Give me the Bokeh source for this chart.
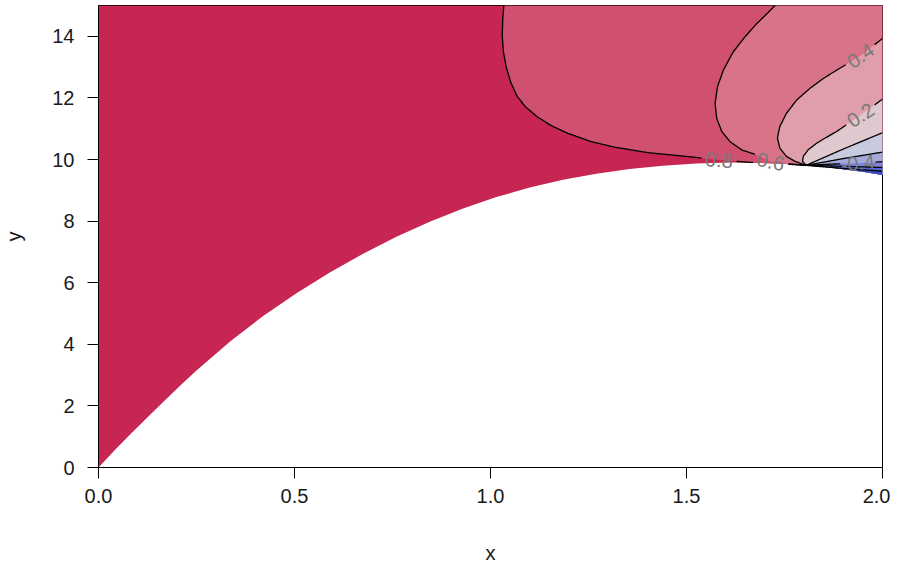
import numpy as np
from bokeh.plotting import figure
from bokeh.models import Range1d, FixedTicker
from bokeh.core.properties import value
from bokeh.embed import file_html
from bokeh.resources import INLINE

# ---------------- data ----------------
X_RANGE = (0.0, 2.0)
Y_RANGE = (0.0, 15.0)
x_ticks = [0.0, 0.5, 1.0, 1.5, 2.0]
x_tick_labels = ["0.0", "0.5", "1.0", "1.5", "2.0"]
y_ticks = [0, 2, 4, 6, 8, 10, 12, 14]
y_tick_labels = ["0", "2", "4", "6", "8", "10", "12", "14"]

# lower edge of the defined region (white below)
bound_x = [0.0, 0.04, 0.08, 0.12, 0.165, 0.21, 0.25, 0.335, 0.42, 0.505, 0.59, 0.675, 0.76, 0.845,
           0.93, 1.015, 1.10, 1.185, 1.27, 1.355, 1.44, 1.525, 1.61, 1.695, 1.78, 1.805,
           1.865, 1.95, 2.0]
bound_y = [0.0, 0.54, 1.06, 1.57, 2.13, 2.68, 3.15, 4.08, 4.92, 5.66, 6.33, 6.94, 7.49, 7.98,
           8.41, 8.78, 9.09, 9.34, 9.54, 9.69, 9.80, 9.87, 9.90, 9.89, 9.84, 9.81,
           9.74, 9.60, 9.50]

# contour lines (level -> points), each ends at the common meeting point
c08_x = [1.034, 1.031, 1.030, 1.033, 1.040, 1.052, 1.068, 1.090, 1.120, 1.155, 1.197, 1.257, 1.317, 1.403, 1.523, 1.583, 1.66, 1.74, 1.805]
c08_y = [15.0, 14.5, 14.0, 13.5, 13.0, 12.5, 12.05, 11.70, 11.38, 11.10, 10.85, 10.58, 10.40, 10.22, 10.07, 9.98, 9.91, 9.86, 9.81]
c06_x = [1.726, 1.705, 1.679, 1.649, 1.619, 1.594, 1.579, 1.573, 1.577, 1.590, 1.611, 1.641, 1.679, 1.715, 1.76, 1.805]
c06_y = [15.0, 14.73, 14.41, 13.98, 13.49, 12.90, 12.36, 11.82, 11.34, 10.91, 10.58, 10.31, 10.15, 9.93, 9.86, 9.81]
c04_x = [2.0, 1.944, 1.883, 1.849, 1.815, 1.781, 1.755, 1.738, 1.732, 1.738, 1.755, 1.777, 1.805]
c04_y = [13.93, 13.37, 12.90, 12.63, 12.31, 11.93, 11.50, 11.07, 10.70, 10.37, 10.10, 9.94, 9.81]
c02_x = [2.0, 1.944, 1.883, 1.857, 1.832, 1.810, 1.798, 1.796, 1.805]
c02_y = [11.96, 11.44, 10.91, 10.72, 10.53, 10.31, 10.10, 9.94, 9.81]
c00_x = [2.0, 1.9, 1.805]
c00_y = [10.87, 10.34, 9.81]
cm02_x = [2.0, 1.9, 1.805]
cm02_y = [10.24, 10.03, 9.81]
cm04_x = [2.0, 1.937, 1.87, 1.805]
cm04_y = [9.93, 9.88, 9.85, 9.81]
cm06_x = [2.0, 1.9, 1.805]
cm06_y = [9.74, 9.78, 9.81]
cm08_x = [2.0, 1.9, 1.805]
cm08_y = [9.62, 9.71, 9.81]

levels = [0.8, 0.6, 0.4, 0.2, 0.0, -0.2, -0.4, -0.6, -0.8]
region_colors = ["#C72653", "#D05070", "#D97388", "#E09DAA", "#DFC8CE",
                 "#C8CADF", "#A4A9DB", "#7B84D6", "#5663D0", "#3A4CC0"]

lab_text = ["0.8", "0.6", "0.4", "0.2", "-0.4"]
lab_level = [0.8, 0.6, 0.4, 0.2, -0.4]
lab_x = [1.583, 1.715, 1.944, 1.944, 1.937]
lab_y = [9.98, 9.93, 13.37, 11.44, 9.88]
lab_angle = [-5, -12, 35, 33, 6]
# which contour lines are interrupted under each label
lab_cuts = [[0.8, 0.6], [0.8, 0.6], [0.4], [0.2], [-0.4]]

# ---------------- figure ----------------
W, H = 890, 566
ML, MR, MT, MB = 97, 8, 5, 97
FW, FH = W - ML - MR, H - MT - MB
sx = FW / (X_RANGE[1] - X_RANGE[0])
sy = FH / (Y_RANGE[1] - Y_RANGE[0])

p = figure(width=W, height=H, x_range=Range1d(*X_RANGE), y_range=Range1d(*Y_RANGE),
           output_backend="svg", toolbar_location=None,
           min_border_left=ML, min_border_right=MR, min_border_top=MT, min_border_bottom=MB)
p.xgrid.visible = False
p.ygrid.visible = False
p.background_fill_color = "white"
p.border_fill_color = "white"
p.outline_line_color = "black"
p.outline_line_width = 1

contours = [(c08_x, c08_y), (c06_x, c06_y), (c04_x, c04_y), (c02_x, c02_y), (c00_x, c00_y),
            (cm02_x, cm02_y), (cm04_x, cm04_y), (cm06_x, cm06_y), (cm08_x, cm08_y)]

# region above the lower edge (highest band)
dom_x = list(bound_x) + [X_RANGE[1], X_RANGE[0]]
dom_y = list(bound_y) + [Y_RANGE[1], Y_RANGE[1]]
p.patch(dom_x, dom_y, fill_color=region_colors[0], line_color=None)

# lower bands painted on top, one after another
for k, (lx, ly) in enumerate(contours):
    cx = lx[-1]
    bx = [x for x in bound_x if x > cx]
    by = [y for x, y in zip(bound_x, bound_y) if x > cx]
    xs = list(lx) + bx
    ys = list(ly) + by
    if ly[0] >= Y_RANGE[1]:
        xs += [X_RANGE[1]]
        ys += [Y_RANGE[1]]
    p.patch(xs, ys, fill_color=region_colors[k + 1], line_color=None)


def split_with_gaps(xs, ys, centers, r):
    xs = np.asarray(xs, float)
    ys = np.asarray(ys, float)
    dx, dy = [], []
    for i in range(len(xs) - 1):
        d = np.hypot((xs[i + 1] - xs[i]) * sx, (ys[i + 1] - ys[i]) * sy)
        n = max(2, int(d) + 1)
        t = np.linspace(0, 1, n, endpoint=False)
        dx.extend(xs[i] + t * (xs[i + 1] - xs[i]))
        dy.extend(ys[i] + t * (ys[i + 1] - ys[i]))
    dx.append(xs[-1])
    dy.append(ys[-1])
    dx = np.array(dx)
    dy = np.array(dy)
    keep = np.ones(len(dx), bool)
    for (cx, cy) in centers:
        keep &= np.hypot((dx - cx) * sx, (dy - cy) * sy) > r
    segs = []
    cur_x, cur_y = [], []
    for x, y, k in zip(dx, dy, keep):
        if k:
            cur_x.append(x)
            cur_y.append(y)
        else:
            if len(cur_x) > 1:
                segs.append((cur_x, cur_y))
            cur_x, cur_y = [], []
    if len(cur_x) > 1:
        segs.append((cur_x, cur_y))
    return segs


for lev, (lx, ly) in zip(levels, contours):
    centers = [(x, y) for x, y, cuts in zip(lab_x, lab_y, lab_cuts) if lev in cuts]
    segs = split_with_gaps(lx, ly, centers, 17)
    if segs:
        p.multi_line([s[0] for s in segs], [s[1] for s in segs], line_color="black", line_width=1.3)

p.text(x=lab_x, y=lab_y, text=lab_text, angle=[a * np.pi / 180 for a in lab_angle],
       text_align="center", text_baseline="middle", text_color="#7a7a7a",
       text_font=value("Liberation Sans"), text_font_size="20px")

# axes
for ax in (p.xaxis[0], p.yaxis[0]):
    ax.major_tick_out = 11
    ax.major_tick_in = 0
    ax.minor_tick_line_color = None
    ax.axis_line_color = "black"
    ax.major_tick_line_color = "black"
    ax.major_label_text_font = "Liberation Sans"
    ax.major_label_text_font_size = "20px"
    ax.major_label_text_color = "#1a1a1a"
    ax.axis_label_text_font = "Liberation Sans"
    ax.axis_label_text_font_size = "20px"
    ax.axis_label_text_font_style = "normal"
    ax.axis_label_text_color = "#1a1a1a"

p.xaxis.ticker = FixedTicker(ticks=x_ticks)
p.xaxis.major_label_overrides = {t: s for t, s in zip(x_ticks, x_tick_labels)}
p.yaxis.ticker = FixedTicker(ticks=y_ticks)
p.yaxis.major_label_overrides = {t: s for t, s in zip(y_ticks, y_tick_labels)}
p.xaxis.axis_label = "x"
p.yaxis.axis_label = "y"
p.xaxis.major_label_standoff = 10
p.yaxis.major_label_standoff = 13
p.xaxis.axis_label_standoff = 36
p.yaxis.axis_label_standoff = 24

open("out.html", "w").write(file_html(p, INLINE))
